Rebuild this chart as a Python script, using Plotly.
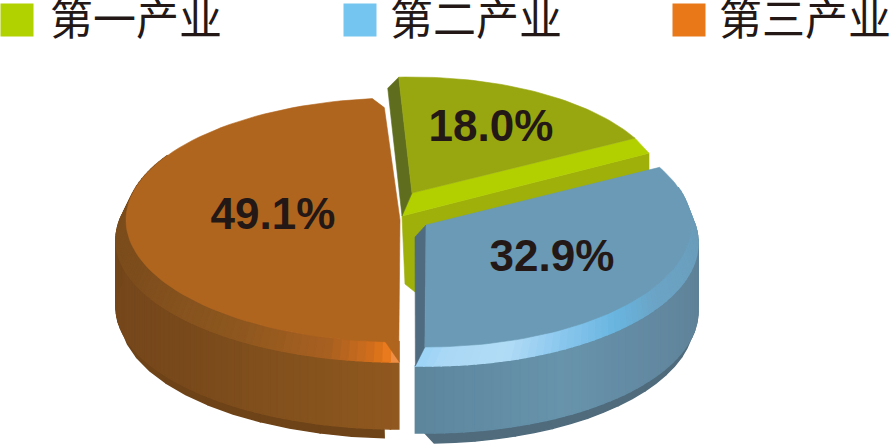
import math
import plotly.graph_objects as go

# ---- data ----
categories = ["第一产业", "第二产业", "第三产业"]
shares = [18.0, 32.9, 49.1]
value_labels = ["18.0%", "32.9%", "49.1%"]

# ---- style ----
legend_colors = ["#b2d200", "#74c5f0", "#e87818"]
legend_box_x = [17, 360, 689]
legend_text_x = [136, 476, 805]
label_pos = [(491, 130), (552, 260), (273, 218)]
W, H = 890, 444
START_ANGLE = 93.0  # parametric angle where first slice starts, clockwise

fig = go.Figure()


def arc(c, t0, t1, n=2):
    cx, cy, rx, ry = c
    return [(cx + rx * math.cos(math.radians(t0 + (t1 - t0) * i / n)),
             cy - ry * math.sin(math.radians(t0 + (t1 - t0) * i / n))) for i in range(n + 1)]


def pt(c, t):
    return arc(c, t, t, 1)[0]


def poly(pts, color, name=None, lw=0.6):
    xs = [p[0] for p in pts] + [pts[0][0]]
    ys = [p[1] for p in pts] + [pts[0][1]]
    fig.add_trace(go.Scatter(x=xs, y=ys, mode="lines", fill="toself", fillcolor=color,
                             line=dict(color=color, width=lw), showlegend=False,
                             hoverinfo="skip" if name is None else "text",
                             text=name))


def hex2rgb(h):
    return [int(h[i:i + 2], 16) for i in (1, 3, 5)]


def ramp(stops, t):
    stops = sorted(stops)
    if t <= stops[0][0]:
        return stops[0][1]
    for (a, ca), (b, cb) in zip(stops, stops[1:]):
        if t <= b:
            f = (t - a) / (b - a)
            x, y = hex2rgb(ca), hex2rgb(cb)
            return "#%02x%02x%02x" % tuple(round(x[i] + (y[i] - x[i]) * f) for i in range(3))
    return stops[-1][1]


def band(c_in, c_out, t0, t1, stops, n=48, out_end=None):
    """Gradient strip between two ellipses, angles t0 to t1."""
    out_end = t1 if out_end is None else out_end
    for i in range(n):
        f0, f1 = i / n, (i + 1) / n
        a0, a1 = t0 + (t1 - t0) * f0, t0 + (t1 - t0) * f1
        b0, b1 = t0 + (out_end - t0) * f0, t0 + (out_end - t0) * f1
        p = arc(c_in, a0, a1, 2) + arc(c_out, b1, b0, 2)
        poly(p, ramp(stops, (a0 + a1) / 2), lw=1.5)


span = [s / 100 * 360 for s in shares]
g0 = START_ANGLE
g1 = g0 - span[0]
b0 = g1
b1 = b0 - span[1]
o0 = b1
o1 = o0 - span[2]

# ---- first slice (green) ----
G = (412, 193, 253, 116)
corner_l = pt(G, g0)
corner_r = pt(G, g1)
apex = (G[0], G[1])
low_apex = (apex[0] - 10, apex[1] + 23)
low_r = (corner_r[0] + 14, corner_r[1] + 15)
poly([low_apex, low_r, (low_r[0], low_r[1] + 22), (low_apex[0] + 13, low_apex[1] + 76),
      (low_apex[0] + 3, low_apex[1] + 68)], "#9fb00a")
poly([apex, corner_r, low_r, low_apex], "#b2d000")
poly([corner_l, (corner_l[0] - 11, corner_l[1] + 11), low_apex, apex], "#5f6e1e")
poly([apex] + arc(G, g0, g1, 50), "#98a70f", categories[0])

# ---- third slice (orange) ----
OT = (400, 220, 274, 122)
O1 = (400, 240, 284, 122)
O3 = (400, 307, 284, 122)
O4 = (400, 316, 280, 122)
band(O3, O4, o0 - 3, -200, [(-200, "#6e4318"), (-90, "#6e4318")], n=8)
band(O1, O3, o0, -192, [(-192, "#73461a"), (-140, "#78491b"), (-110, "#85521d"), (-90, "#91581f")], n=60)
band(OT, O1, o0, -212, [(-212, "#7a4c1b"), (-160, "#7d4d1c"), (-125, "#8e571f"), (-105, "#a86020"),
                        (-96, "#d06e1d"), (-93, "#e87818"), (-91.5, "#ef8e45"), (-90, "#ef8e45")], n=70)
end = pt(OT, o0)
poly([(end[0] - 14, end[1] - 1), (end[0] + 0.5, end[1] + 20), (end[0] + 0.5, end[1] - 1)], "#b0651f")
cut = pt(OT, o1 + 2.8)
top_end = (cut[0] + 12, cut[1] + 9)
poly([(OT[0], OT[1])] + arc(OT, o0, o1 + 2.8, 80) + [top_end], "#b0651f", categories[2])

# ---- second slice (blue) ----
BT = (426, 225, 265, 122)
B1 = (426, 243, 272, 123)
B3 = (426, 311, 272, 122)
B4 = (426, 320, 268, 123)
band(B3, B4, 0, b1, [(-91, "#4f6b7c"), (0, "#4f6b7c")], n=10, out_end=b1 + 2)
band(B1, B3, 10, b1 - 2, [(-92, "#5d869c"), (-80, "#608ba3"), (-60, "#6793ab"), (-40, "#638ba3"),
                          (10, "#5c7d92")], n=50)
band(BT, B1, 18, b1, [(-91, "#9ad4f8"), (-85, "#aad8f5"), (-72, "#b2dcf6"), (-60, "#8cc8ee"),
                      (-45, "#68b5e0"), (-32, "#6ba4c6"), (10, "#6a9ab5")], n=60, out_end=b1 - 2)
p_top = (BT[0], BT[1])
p_end = pt(BT, b1)
p_out = pt(B1, b1 - 2)
poly([p_top, (p_top[0] - 11, p_top[1] + 12), p_out, p_end], "#4f6b80")
poly([p_top] + arc(BT, b0, b1, 70), "#6a9ab5", categories[1])

# ---- value labels ----
for (x, y), s in zip(label_pos, value_labels):
    fig.add_trace(go.Scatter(x=[x], y=[y], mode="text", text=[s], showlegend=False, hoverinfo="skip",
                             textposition="middle center", cliponaxis=False,
                             textfont=dict(family="Liberation Sans", size=44, color="#231815", weight="bold")))

# ---- legend ----
for bx, tx, cat, col in zip(legend_box_x, legend_text_x, categories, legend_colors):
    fig.add_trace(go.Scatter(x=[bx], y=[20], mode="markers", showlegend=False, hoverinfo="skip", cliponaxis=False,
                             marker=dict(symbol="square", size=33, color=col, line=dict(width=0))))
    fig.add_trace(go.Scatter(x=[tx], y=[24], mode="text", text=[cat], showlegend=False, hoverinfo="skip",
                             textposition="middle center", cliponaxis=False,
                             textfont=dict(family="Noto Sans CJK SC", size=43, color="#231815")))

fig.update_layout(width=W, height=H, margin=dict(l=0, r=0, t=0, b=0, pad=0), autosize=False,
                  paper_bgcolor="white", plot_bgcolor="white", showlegend=False,
                  xaxis=dict(range=[0, W], visible=False, fixedrange=True),
                  yaxis=dict(range=[H, 0], visible=False, fixedrange=True))
fig.write_html("out.html", config={"displayModeBar": False},
               post_script="document.body.style.margin='0';document.body.style.overflow='hidden';")
